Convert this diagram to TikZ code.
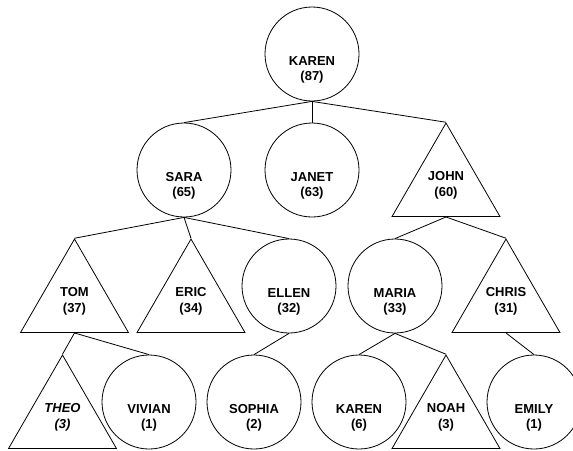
\documentclass[tikz,border=0pt]{standalone}
\usepackage{fontspec}
\setmainfont{Liberation Sans}
\usetikzlibrary{shapes.geometric}

\begin{document}
\begin{tikzpicture}[x=1pt,y=-1pt,line width=0.8pt,
  who/.style={align=center,font=\fontsize{13}{15.5}\selectfont\bfseries,inner sep=0pt},
  c/.style={draw,circle,minimum size=94pt,inner sep=0pt,label={[who,yshift=-16pt]center:#1}},
  t/.style={draw,regular polygon,regular polygon sides=3,minimum size=124.7pt,who}]
\useasboundingbox (0,0) rectangle (573,450);
\node[c={KAREN\\(87)}] (k0) at (312,54) {};
\node[c={SARA\\(65)}] (sa) at (184,170) {};
\node[c={JANET\\(63)}] (ja) at (312,170) {};
\node[t] (jo) at (446,185.4) {JOHN\\(60)};
\node[t] (to) at (74.5,301.4) {TOM\\(37)};
\node[t] (er) at (191,301.4) {ERIC\\(34)};
\node[c={ELLEN\\(32)}] (el) at (289,286) {};
\node[c={MARIA\\(33)}] (ma) at (395,286) {};
\node[t] (ch) at (506,301.4) {CHRIS\\(31)};
\node[t] (th) at (62.5,417.4) {\textit{THEO}\\\textit{(3)}};
\node[c={VIVIAN\\(1)}] (vi) at (149,402) {};
\node[c={SOPHIA\\(2)}] (so) at (254,402) {};
\node[c={KAREN\\(6)}] (k6) at (359,402) {};
\node[t] (no) at (446,417.4) {NOAH\\(3)};
\node[c={EMILY\\(1)}] (em) at (534,402) {};
\draw (k0.south)--(sa.north); \draw (k0.south)--(ja.north); \draw (k0.south)--(jo.north);
\draw (sa.south)--(to.north); \draw (sa.south)--(er.north); \draw (sa.south)--(el.north);
\draw (jo.south)--(ma.north); \draw (jo.south)--(ch.north);
\draw (to.south)--(th.north); \draw (to.south)--(vi.north);
\draw (el.south)--(so.north);
\draw (ma.south)--(k6.north); \draw (ma.south)--(no.north);
\draw (ch.south)--(em.north);
\end{tikzpicture}
\end{document}
